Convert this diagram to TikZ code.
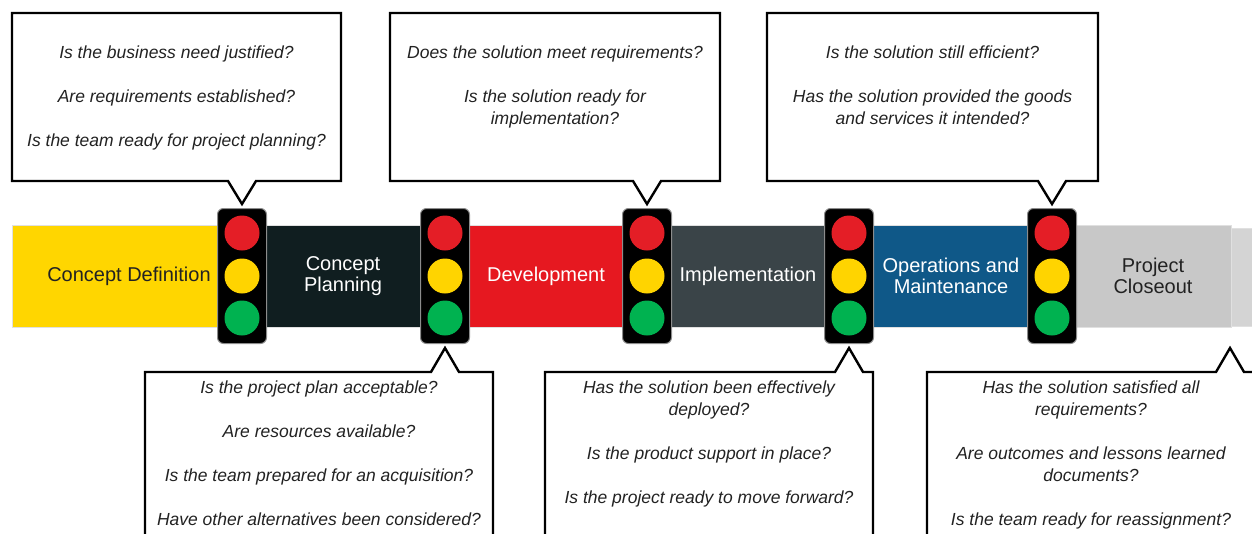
\documentclass[tikz,border=0pt]{standalone}
\usepackage{fontspec}
\setmainfont{Liberation Sans}
\usepackage{tikz}
\usetikzlibrary{positioning}

\definecolor{cdyellow}{RGB}{255,214,0}
\definecolor{cpdark}{RGB}{16,30,32}
\definecolor{devred}{RGB}{230,24,32}
\definecolor{impslate}{RGB}{58,68,72}
\definecolor{opsblue}{RGB}{15,88,136}
\definecolor{closegray}{RGB}{200,200,200}
\definecolor{tailgray}{RGB}{212,212,212}
\definecolor{lampred}{RGB}{228,30,38}
\definecolor{lampyellow}{RGB}{255,212,0}
\definecolor{lampgreen}{RGB}{0,178,80}
\definecolor{asktext}{RGB}{34,34,34}

\tikzset{
  phase/.style={minimum height=102pt, minimum width=156pt, inner sep=0pt, draw=black!12,
    line width=0.8pt, align=center, font=\fontsize{20}{21}\selectfont},
  housing/.style={minimum width=49pt, minimum height=135pt, rounded corners=6pt,
    fill=black, draw=black!45, line width=1pt},
  lamp/.style={circle, minimum size=35pt, inner sep=0pt},
  bubble/.style={draw=black, fill=white, line width=2.4pt, line join=miter},
  ask/.style={anchor=north, inner sep=0pt, align=center, text=asktext,
    font=\fontsize{17.5}{22}\selectfont\itshape},
}

\begin{document}
\begin{tikzpicture}[x=1pt, y=-1pt]
	\useasboundingbox (0,0) rectangle (1252,533);
	\clip (0,0) rectangle (1252,533);
	% phases
	\node[phase, fill=cdyellow, minimum width=234pt, text=asktext] (define) at (129,276) {Concept Definition};
	\node[phase, fill=cpdark, text=white] (plan) at (343,276) {Concept\\Planning};
	\node[phase, fill=devred, text=white] (develop) at (546,276) {Development};
	\node[phase, fill=impslate, text=white] (implement) at (748,276) {Implementation};
	\node[phase, fill=opsblue, text=white] (operate) at (951,276) {Operations and\\Maintenance};
	\node[phase, fill=closegray, text=asktext] (closeout) at (1153,276) {Project\\Closeout};
	\node[phase, fill=tailgray, minimum width=24pt, minimum height=98pt] (tail) at (1243,277) {};
	% traffic lights
	\foreach \x [count=\i] in {242,445,647,849,1052} {
		\node[housing] (light\i) at (\x,276) {};
		\node[lamp, fill=lampred] (red\i) at ([yshift=43pt]light\i.center) {};
		\node[lamp, fill=lampyellow] (amber\i) at (light\i.center) {};
		\node[lamp, fill=lampgreen] (green\i) at ([yshift=-42pt]light\i.center) {};
	}
	% callouts above
	\draw[bubble] (12,13) -- (341,13) -- (341,181) -- (256,181) -- (242,204) -- (228,181) -- (12,181) -- cycle;
	\draw[bubble] (390,13) -- (720,13) -- (720,181) -- (661,181) -- (647,204) -- (633,181) -- (390,181) -- cycle;
	\draw[bubble] (767,13) -- (1098,13) -- (1098,181) -- (1066,181) -- (1052,204) -- (1038,181) -- (767,181) -- cycle;
	% callouts below
	\draw[bubble] (145,560) -- (145,372) -- (431,372) -- (445,348) -- (459,372) -- (493,372) -- (493,560);
	\draw[bubble] (545,560) -- (545,372) -- (835,372) -- (849,348) -- (863,372) -- (873,372) -- (873,560);
	\draw[bubble] (927,560) -- (927,372) -- (1216,372) -- (1230,348) -- (1244,372) -- (1262,372);
	% questions
	\node[ask] (ask1) at (176.5,46) {Is the business need justified?\\[22pt]Are requirements established?\\[22pt]Is the team ready for project planning?};
	\node[ask] (ask2) at (555,46) {Does the solution meet requirements?\\[22pt]Is the solution ready for\\implementation?};
	\node[ask] (ask3) at (932.5,46) {Is the solution still efficient?\\[22pt]Has the solution provided the goods\\and services it intended?};
	\node[ask] (ask4) at (319,381) {Is the project plan acceptable?\\[22pt]Are resources available?\\[22pt]Is the team prepared for an acquisition?\\[22pt]Have other alternatives been considered?};
	\node[ask] (ask5) at (709,381) {Has the solution been effectively\\deployed?\\[22pt]Is the product support in place?\\[22pt]Is the project ready to move forward?};
	\node[ask] (ask6) at (1091,381) {Has the solution satisfied all\\requirements?\\[22pt]Are outcomes and lessons learned\\documents?\\[22pt]Is the team ready for reassignment?};
\end{tikzpicture}
\end{document}
